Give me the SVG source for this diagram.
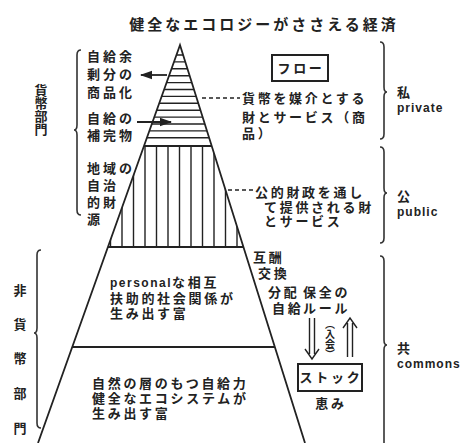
<svg xmlns="http://www.w3.org/2000/svg" width="469" height="443" viewBox="0 0 469 443">
<style>
.t{font-family:"Liberation Sans","Noto Sans CJK JP",sans-serif;font-weight:700;fill:#222;font-size:13px;letter-spacing:2.7px}
.lat{font-family:"Liberation Sans","Noto Sans CJK JP",sans-serif;font-weight:700;fill:#222;font-size:12px;letter-spacing:1px}
.v{writing-mode:vertical-rl;letter-spacing:0}
.ln{stroke:#222;stroke-width:1.8;fill:none}
.hat{stroke:#222;stroke-width:1.4;fill:none}
.dash{stroke:#222;stroke-width:1.5;stroke-dasharray:4,3;fill:none}
.br{stroke:#333;stroke-width:1.6;fill:none}
.box{stroke:#222;stroke-width:2;fill:#fff}
</style>
<defs>
<clipPath id="pyr"><polygon points="180,45 38,443 305,443"/></clipPath>
<marker id="ah" viewBox="0 0 10 10" refX="9" refY="5" markerWidth="7" markerHeight="7" orient="auto"><path d="M0,1.5 L10,5 L0,8.5 Z" fill="#222"/></marker>
</defs>
<rect width="469" height="443" fill="#fff"/>
<text class="t" x="264" y="30" text-anchor="middle" style="font-size:15px;letter-spacing:3px">健全なエコロジーがささえる経済</text>
<g id="pyramid">
<g clip-path="url(#pyr)" class="hat">
<path d="M0,55H469M0,61.9H469M0,68.8H469M0,75.7H469M0,82.6H469M0,89.5H469M0,96.4H469M0,103.3H469M0,110.2H469M0,117.1H469M0,124H469M0,130.9H469M0,137.8H469"/>
<path d="M110.5,146V247M122,146V247M133.5,146V247M145,146V247M156.5,146V247M168,146V247M179.5,146V247M191,146V247M202.5,146V247M214,146V247M225.5,146V247M237,146V247"/>
<path class="ln" d="M0,146H469M0,247H469M0,347H469"/>
</g>
<path class="ln" d="M38,443 L180,45 L305,443"/>
</g>
<g id="left-labels">
<text class="t" style="letter-spacing:3px"><tspan x="87" y="61">自給余</tspan><tspan x="87" y="79">剰分の</tspan><tspan x="87" y="97">商品化</tspan><tspan x="87" y="123">自給の</tspan><tspan x="87" y="140">補完物</tspan><tspan x="87" y="173">地域の</tspan><tspan x="87" y="190">自治</tspan><tspan x="87" y="207">的財</tspan><tspan x="87" y="224">源</tspan></text>
<text class="t v" x="40" y="84" style="font-size:13px">貨幣部門</text>
<text class="t" text-anchor="middle" style="letter-spacing:0"><tspan x="20" y="295">非</tspan><tspan x="20" y="329">貨</tspan><tspan x="20" y="363">幣</tspan><tspan x="20" y="398">部</tspan><tspan x="20" y="433">門</tspan></text>
</g>
<g id="braces" class="br">
<path d="M81,50 Q77,50 77,55 L77,125 Q77,130 74,130 Q77,130 77,135 L77,210 Q77,215 81,215"/>
<path d="M41,250 Q37,250 37,255 L37,328 Q37,333 34,333 Q37,333 37,338 L37,423 Q37,428 41,428"/>
<path d="M380,42 Q384,42 384,47 L384,87 Q384,92 387,92 Q384,92 384,97 L384,134 Q384,139 380,139"/>
<path d="M380,147 Q384,147 384,152 L384,188 Q384,193 387,193 Q384,193 384,198 L384,238 Q384,243 380,243"/>
<path d="M380,256 Q384,256 384,261 L384,340 Q384,345 387,345 Q384,345 384,350 L384,443"/>
</g>
<g id="right-labels">
<text class="t"><tspan x="397" y="97">私</tspan><tspan class="lat" x="397" y="112">private</tspan></text>
<text class="t"><tspan x="397" y="201">公</tspan><tspan class="lat" x="397" y="216">public</tspan></text>
<text class="t"><tspan x="397" y="353">共</tspan><tspan class="lat" x="397" y="368">commons</tspan></text>
</g>
<g id="flow">
<rect class="box" x="272" y="55" width="56" height="26"/>
<text class="t" x="301" y="73" text-anchor="middle">フロー</text>
</g>
<g id="private-text">
<text class="t"><tspan x="242" y="103">貨幣を媒介とする</tspan><tspan x="242" y="122">財とサービス（商</tspan><tspan x="242" y="138">品）</tspan></text>
</g>
<g id="public-text">
<text class="t"><tspan x="255" y="197">公的財政を通し</tspan><tspan x="264" y="211.7">て提供される財</tspan><tspan x="264" y="226.4">とサービス</tspan></text>
</g>
<g id="commons-text">
<text class="t"><tspan x="253" y="262">互酬</tspan><tspan x="258" y="278">交換</tspan><tspan x="268" y="297">分配</tspan><tspan x="303" y="297">保全の</tspan><tspan x="272" y="313">自給</tspan><tspan x="303" y="313">ルール</tspan></text>
<text class="t v" x="329" y="319" style="font-size:10px">（入会）</text>
</g>
<g id="stock">
<rect class="box" x="298" y="364" width="64" height="27"/>
<text class="t"><tspan x="331" y="382" text-anchor="middle">ストック</tspan><tspan x="331" y="408" text-anchor="middle">恵み</tspan></text>
</g>
<g id="inner-text">
<text class="t"><tspan x="110" y="287"><tspan style="font-size:12px;letter-spacing:1.5px">personal</tspan>な相互</tspan><tspan x="110" y="303">扶助的社会関係が</tspan><tspan x="110" y="318">生み出す富</tspan></text>
<text class="t"><tspan x="92" y="388">自然の層のもつ自給力</tspan><tspan x="92" y="403">健全なエコシステムが</tspan><tspan x="92" y="418">生み出す富</tspan></text>
</g>
<g id="connectors">
<path class="ln" d="M167,75 H141" marker-end="url(#ah)"/>
<path class="ln" d="M137,122 H171" marker-end="url(#ah)"/>
<path class="dash" d="M202,98 H240"/>
<path class="dash" d="M228,190 H253"/>
<path class="hat" d="M309.5,318 V354 M314.5,318 V354 M305,349 L312,359 L319,349"/>
<path class="hat" d="M347.5,357 V323 M352.5,357 V323 M343,328 L350,318 L357,328"/>
</g>
</svg>
